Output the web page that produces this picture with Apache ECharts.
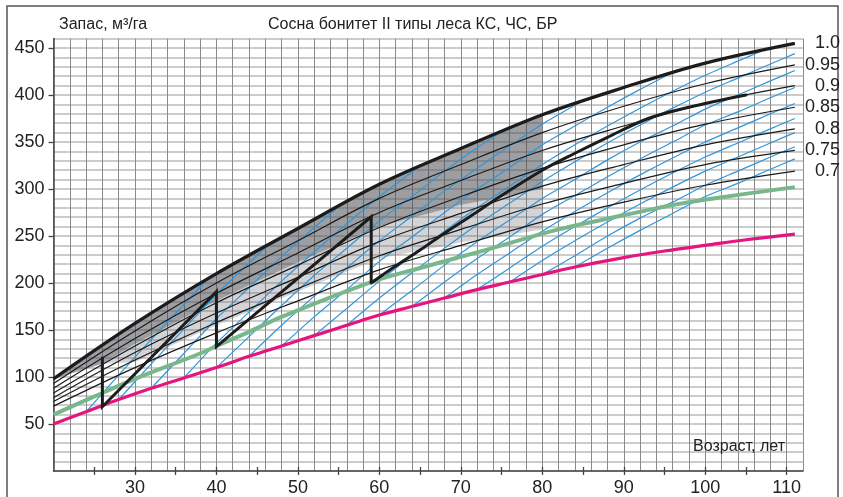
<!DOCTYPE html>
<html><head><meta charset="utf-8">
<script src="https://cdn.jsdelivr.net/npm/echarts/dist/echarts.min.js"></script>
<style>html,body{margin:0;padding:0;background:#fff}#c{width:843px;height:497px}</style>
</head><body><div id="c"></div>
<script>
// ---- data ----
const densAges = [20, 30, 40, 50, 60, 70, 80, 90, 100, 111];
const dens100 = [98, 157, 210, 258, 305, 343, 379, 408, 434, 455];
const dens095 = [93, 149, 200, 245, 290, 326, 360, 388, 412, 432];
const dens090 = [88, 141, 189, 232, 275, 309, 341, 367, 391, 410];
const dens085 = [83, 133, 179, 219, 259, 292, 322, 347, 369, 387];
const dens080 = [78, 126, 168, 206, 244, 274, 303, 326, 347, 364];
const dens075 = [74, 118, 158, 194, 229, 257, 284, 306, 326, 341];
const dens070 = [69, 110, 147, 181, 214, 240, 265, 286, 304, 319];
const densNames = ['1.0', '0.95', '0.9', '0.85', '0.8', '0.75', '0.7'];

const pinkLine = [[20,50],[24,63],[28,76],[32,88],[36,99],[40,110],[44,122],[48,133],[52,144],[56,155],[60,166],[64,175],[68,184],[72,193],[76,201],[80,209],[84,217],[90,227],[95,234],[100,240],[105,246],[111,252]];
const greenLine = [[20,60],[26,83],[30,98],[38,125],[40,133],[44,148],[48,164],[59,201],[65,216],[73,235],[82,257],[90,272],[96,283],[101,290],[111,302]];

const sawTeeth = [[26,121.6],[26,68.4],[40,190.8],[40,132.3],[59,270.5],[59,200]];
const sawCurve = [[59,200],[62,218],[65,235],[68,253],[71,270],[75,293],[80,320],[84,338],[88,355],[93,375],[98,387],[105,400]];

const blue24 = [[24,63],[28,102],[32,140],[36,177],[39,205]];
const blue28 = [[28,76],[32,114],[36,151],[40,188],[44,221],[46.3,240]];
const blue32 = [[32,88],[36,125],[40,162],[44,195],[48,228],[52,259],[55.2,283]];
const blue36 = [[36,99],[40,136],[44,169],[48,202],[52,233],[56,263],[60,292],[64,318],[64.7,323]];
const blue40 = [[40,110],[44,143],[48,176],[52,208],[56,237],[60,266],[64,292],[68,319],[72,344],[75,361]];
const blue44 = [[44,122],[48,155],[52,186],[56,216],[60,245],[64,271],[68,298],[72,322],[76,346],[80,369],[84.6,392]];
const blue48 = [[48,133],[52,164],[56,193],[60,223],[64,249],[68,275],[72,300],[76,323],[80,347],[84,367],[88,387],[92,406],[96,424]];
const blue52 = [[52,144],[56,173],[60,202],[64,229],[68,255],[72,280],[76,303],[80,326],[84,347],[88,367],[92,386],[96,404],[100,421],[104,436],[107,447]];
const blue56 = [[56,155],[60,184],[64,211],[68,237],[72,262],[76,285],[80,308],[84,329],[88,349],[92,368],[96,386],[100,403],[104,418],[108,433],[111,444]];
const blue60 = [[60,166],[64,192],[68,219],[72,244],[76,267],[80,290],[84,310],[88,331],[92,350],[96,367],[100,385],[104,400],[108,415],[111,426]];
const blue64 = [[64,175],[68,201],[72,226],[76,249],[80,273],[84,293],[88,313],[92,332],[96,350],[100,368],[104,382],[108,397],[111,408]];
const blue68 = [[68,184],[72,209],[76,232],[80,255],[84,276],[88,296],[92,315],[96,333],[100,350],[104,365],[108,380],[111,391]];
const blue72 = [[72,193],[76,216],[80,239],[84,260],[88,280],[92,299],[96,317],[100,334],[104,349],[108,364],[111,375]];
const blue76 = [[76,201],[80,224],[84,245],[88,265],[92,284],[96,302],[100,319],[104,334],[108,349],[111,360]];
const blue80 = [[80,209],[84,229],[88,250],[92,269],[96,286],[100,304],[104,319],[108,334],[111,345]];
const blue84 = [[84,217],[88,237],[92,256],[96,274],[100,292],[104,306],[108,321],[111,332]];
const blueLines = [blue24,blue28,blue32,blue36,blue40,blue44,blue48,blue52,blue56,blue60,blue64,blue68,blue72,blue76,blue80,blue84];

// shaded zone boundaries
const shadeEnd = 80;
const darkLowAges = [20, 26, 30, 40, 50, 60, 70, 80];
const darkLow = [98, 114, 135, 181, 222, 260, 283, 300];
const lightLowAges = [26, 30, 40, 50, 60, 70, 80];
const lightLow = [114, 116, 155, 191, 226, 243, 257];

const xTicks = [25,30,35,40,45,50,55,60,65,70,75,80,85,90,95,100,105,110];
const xLabels = [30,40,50,60,70,80,90,100,110];
const yLabels = [50,100,150,200,250,300,350,400,450];

// ---- chart ----
const FONT = '"Liberation Sans", Arial, sans-serif';
const chart = echarts.init(document.getElementById('c'), null, {renderer: 'canvas'});
const zip = (a, v) => a.map((x, i) => [x, v[i]]);
const densValues = [dens100, dens095, dens090, dens085, dens080, dens075, dens070];

const series = [];
series.push({
  type: 'custom', coordinateSystem: 'cartesian2d', silent: true, z: 1,
  data: [[50, 200]],
  renderItem: function (params, api) {
    const topPts = densAges.map((a, i) => [a, dens100[i]]).filter(p => p[0] <= shadeEnd);
    const dl = zip(darkLowAges, darkLow);
    const ll = zip(lightLowAges, lightLow);
    const darkPoly = topPts.concat(dl.slice().reverse()).map(p => api.coord(p));
    const lightPoly = dl.filter(p => p[0] >= lightLowAges[0]).concat(ll.slice().reverse()).map(p => api.coord(p));
    return {type: 'group', children: [
      {type: 'polygon', shape: {points: darkPoly}, style: {fill: 'rgba(74,76,84,0.54)'}},
      {type: 'polygon', shape: {points: lightPoly}, style: {fill: 'rgba(100,102,110,0.28)'}}
    ]};
  }
});
blueLines.forEach(b => series.push({
  type: 'line', data: b, symbol: 'none', silent: true, smooth: 0.25, z: 2,
  lineStyle: {color: '#2f96dc', width: 1.2}
}));
densValues.forEach((v, k) => {
  if (k === 0) return;
  series.push({type: 'line', name: densNames[k], data: zip(densAges, v), symbol: 'none', silent: true,
    smooth: 0.35, z: 3, lineStyle: {color: '#1a1a1a', width: 1.2}});
});
series.push({type: 'line', data: greenLine, symbol: 'none', silent: true, smooth: 0.35, z: 4,
  lineStyle: {color: '#78b78c', width: 4}});
series.push({type: 'line', data: pinkLine, symbol: 'none', silent: true, smooth: 0.35, z: 4,
  lineStyle: {color: '#e5147f', width: 3.2}});
series.push({type: 'line', data: sawTeeth, symbol: 'none', silent: true, smooth: false, z: 5,
  lineStyle: {color: '#1c1c1c', width: 3, join: 'miter', cap: 'butt'}});
series.push({type: 'line', data: sawCurve, symbol: 'none', silent: true, smooth: 0.35, z: 5,
  lineStyle: {color: '#1c1c1c', width: 3, cap: 'round'}});
series.push({type: 'line', name: densNames[0], data: zip(densAges, dens100), symbol: 'none', silent: true,
  smooth: 0.35, z: 5, lineStyle: {color: '#1c1c1c', width: 3.3}});

const option = {
  animation: false,
  backgroundColor: '#fff',
  textStyle: {fontFamily: FONT},
  grid: {left: 53.5, right: 40, top: 38.6, bottom: 26, containLabel: false},
  xAxis: [
    {type: 'value', min: 20, max: 112, interval: 2,
      axisLine: {show: true, onZero: false, lineStyle: {color: '#444', width: 1.5}},
      axisTick: {show: false}, axisLabel: {show: false},
      splitLine: {show: true, lineStyle: {color: '#8a8a8a', width: 1}}},
    {type: 'value', min: 20, max: 112, interval: 5, position: 'bottom',
      axisLine: {show: false}, splitLine: {show: false},
      axisTick: {show: true, length: 4, inside: false, customValues: xTicks, lineStyle: {color: '#444', width: 1.3}},
      axisLabel: {show: true, customValues: xLabels, fontSize: 18, color: '#222', margin: 8, fontFamily: FONT,
        formatter: v => (v % 10 === 0 && v >= 30 && v <= 110) ? String(v) : ''}},
    {type: 'value', min: 20, max: 112, interval: 5, position: 'bottom',
      axisLine: {show: false}, splitLine: {show: false}, axisLabel: {show: false},
      axisTick: {show: true, length: 4, inside: true, customValues: xTicks, lineStyle: {color: '#444', width: 1.3}}}
  ],
  yAxis: [
    {type: 'value', min: 0, max: 460, interval: 10,
      axisLine: {show: false}, axisTick: {show: false}, axisLabel: {show: false},
      splitLine: {show: true, lineStyle: {color: '#bbbbbb', width: 1.5}}},
    {type: 'value', min: 0, max: 460, interval: 50, position: 'left',
      axisLine: {show: true, onZero: false, lineStyle: {color: '#444', width: 1.5}},
      splitLine: {show: false},
      axisTick: {show: true, length: 5, customValues: yLabels, lineStyle: {color: '#444', width: 1.3}},
      axisLabel: {show: true, customValues: yLabels, fontSize: 18, color: '#222', margin: 9, fontFamily: FONT,
        formatter: v => (v % 50 === 0 && v > 0 && v <= 450) ? String(v) : ''}}
  ],
  series: series,
  graphic: [
    {type: 'rect', silent: true, z: 100, shape: {x: 7, y: 6, width: 831, height: 520},
      style: {fill: 'none', stroke: '#555', lineWidth: 1.5}},
    {type: 'text', silent: true, z: 100, x: 59, y: 25,
      style: {text: 'Запас, м³/га', fill: '#222', font: '16px ' + FONT, textAlign: 'left', textVerticalAlign: 'middle'}},
    {type: 'text', silent: true, z: 100, x: 268, y: 25,
      style: {text: 'Сосна бонитет II типы леса КС, ЧС, БР', fill: '#222', font: '16px ' + FONT, textAlign: 'left', textVerticalAlign: 'middle'}},
    {type: 'text', silent: true, z: 100, x: 693, y: 447,
      style: {text: 'Возраст, лет', fill: '#222', font: '16px ' + FONT, textAlign: 'left', textVerticalAlign: 'middle'}}
  ]
};
chart.setOption(option);

// end-of-curve density labels, positioned through the chart's own scales
const endLabels = densValues.map((v, k) => {
  const p = chart.convertToPixel({xAxisIndex: 0, yAxisIndex: 0}, [densAges[densAges.length - 1], v[v.length - 1]]);
  return {type: 'text', silent: true, z: 100, x: 840, y: p[1],
    style: {text: densNames[k], fill: '#222', font: '18px ' + FONT, textAlign: 'right', textVerticalAlign: 'middle'}};
});
chart.setOption({graphic: option.graphic.concat(endLabels)});
</script>
</body></html>
